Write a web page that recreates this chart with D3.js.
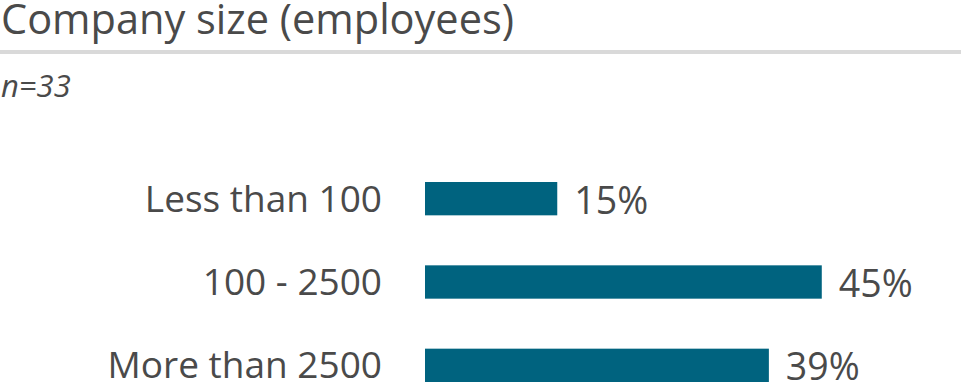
<!DOCTYPE html>
<html><head><meta charset="utf-8">
<script src="https://cdn.jsdelivr.net/npm/d3@7"></script>
<style>body{margin:0;background:#fff;}svg{display:block;font-family:"Open Sans",sans-serif;}</style>
</head><body><svg id="c" width="961" height="392"></svg>
<script>
const categories = ["Less than 100", "100 - 2500", "More than 2500"];
const values = [15.15, 45.45, 39.39];
const valueLabels = ["15%", "45%", "39%"];
const title = "Company size (employees)";
const subtitle = "n=33";

const svg = d3.select("#c");
const textColor = "#4a4a4a";
svg.append("text").attr("x", 1).attr("y", 34).attr("font-size", 41.5).attr("fill", textColor).text(title);
svg.append("line").attr("x1", 0).attr("x2", 961).attr("y1", 52).attr("y2", 52).attr("stroke", "#d9d9d9").attr("stroke-width", 4);
svg.append("text").attr("x", 1).attr("y", 97).attr("font-size", 31).attr("font-style", "italic").attr("fill", textColor).text(subtitle);

const x = d3.scaleLinear().domain([0, 100]).range([425, 425 + 873]);
const y = d3.scaleBand().domain(categories).range([157, 407]).paddingInner(0.6).paddingOuter(0.3);

const g = svg.append("g");
g.selectAll("rect").data(categories).join("rect")
  .attr("x", x(0)).attr("y", d => y(d))
  .attr("width", (d, i) => x(values[i]) - x(0))
  .attr("height", y.bandwidth()).attr("fill", "#00637F");

g.selectAll("text.cat").data(categories).join("text").attr("class", "cat")
  .attr("x", 382).attr("y", d => y(d) + y.bandwidth() / 2 + 13)
  .attr("text-anchor", "end").attr("font-size", 37).attr("fill", textColor).text(d => d);

g.selectAll("text.val").data(categories).join("text").attr("class", "val")
  .attr("x", (d, i) => x(values[i]) + 17).attr("y", d => y(d) + y.bandwidth() / 2 + 15)
  .attr("font-size", 37.5).attr("fill", textColor).text((d, i) => valueLabels[i]);
</script></body></html>
